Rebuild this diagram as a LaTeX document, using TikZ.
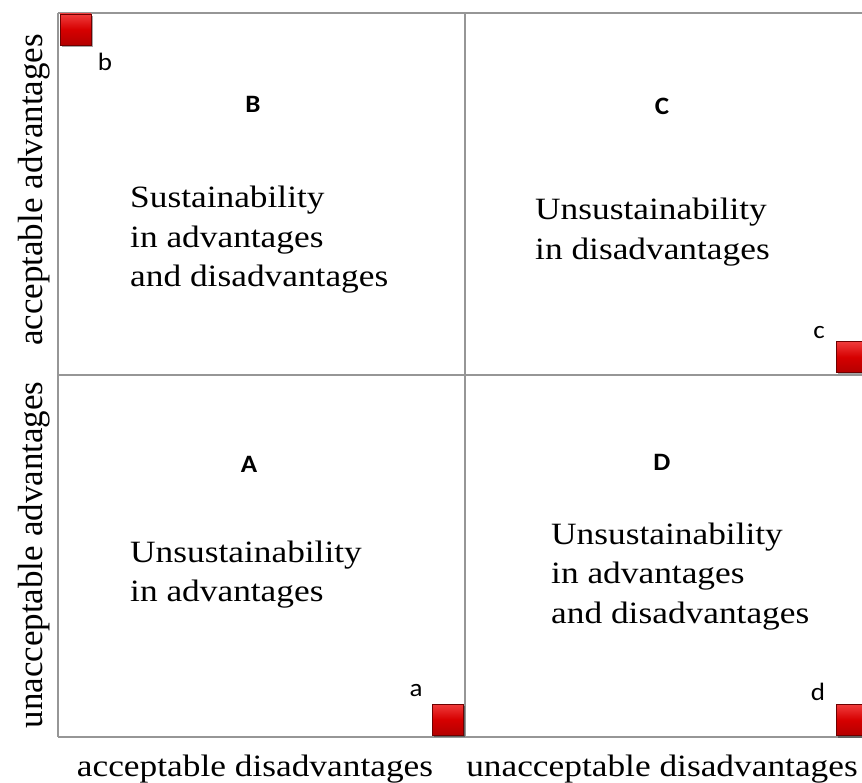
\documentclass[tikz,border=0pt]{standalone}
\usepackage{fontspec}
\usepackage{graphicx}
\setmainfont{Liberation Serif}
\newfontfamily\wideserif[FakeStretch=1.14]{Liberation Serif}
\newfontfamily\lettersans[FakeStretch=1.08]{Carlito}
\usetikzlibrary{shadows}
\definecolor{gridgray}{RGB}{150,150,150}
\definecolor{redtop}{RGB}{240,60,60}
\definecolor{redmid}{RGB}{214,0,0}
\definecolor{redbot}{RGB}{180,0,0}
\definecolor{redline}{RGB}{110,0,0}
\tikzset{
  gridline/.style={draw=gridgray, line width=2pt},
  marker/.style={minimum size=31pt, inner sep=0pt, draw=redline, line width=0.7pt,
    top color=redtop, bottom color=redbot, middle color=redmid,
    drop shadow={shadow xshift=1.5pt, shadow yshift=-2pt, opacity=0.35, fill=black}},
  quadtext/.style={anchor=base west, inner sep=0pt, font=\wideserif\fontsize{31}{39.5}\selectfont},
  quadletter/.style={inner sep=0pt, font=\lettersans\bfseries\fontsize{25}{28}\selectfont},
  cornerletter/.style={inner sep=0pt, font=\lettersans\fontsize{25}{28}\selectfont},
  axistext/.style={inner sep=0pt, anchor=base, font=\fontsize{35}{40}\selectfont},
  axistextwide/.style={inner sep=0pt, anchor=base, font=\wideserif\fontsize{31}{40}\selectfont}
}
\begin{document}
\begin{tikzpicture}[x=1pt, y=-1pt]
\useasboundingbox (0,0) rectangle (862,783);
% grid coordinates
\coordinate (tl) at (58,13);
\coordinate (tm) at (465,13);
\coordinate (tr) at (870,13);
\coordinate (ml) at (58,375);
\coordinate (mr) at (870,375);
\coordinate (bl) at (58,737);
\coordinate (bm) at (465,737);
\coordinate (br) at (870,737);
\draw[gridline] (tl) -- (tr);
\draw[gridline] (ml) -- (mr);
\draw[gridline] (bl) -- (br);
\draw[gridline] (tl) -- (bl);
\draw[gridline] (tm) -- (bm);

% quadrant letters
\node[quadletter] (qB) at (253,104) {B};
\node[quadletter] (qC) at (662,106) {C};
\node[quadletter] (qA) at (249,464) {A};
\node[quadletter] (qD) at (662,462) {D};

% quadrant texts
\node[quadtext] (tB) at (130,208) {\begin{tabular}[t]{@{}l@{}}Sustainability\\in advantages\\and disadvantages\end{tabular}};
\node[quadtext] (tC) at (535,220) {\begin{tabular}[t]{@{}l@{}}Unsustainability\\in disadvantages\end{tabular}};
\node[quadtext] (tA) at (130,562) {\begin{tabular}[t]{@{}l@{}}Unsustainability\\in advantages\end{tabular}};
\node[quadtext] (tD) at (551,544) {\begin{tabular}[t]{@{}l@{}}Unsustainability\\in advantages\\and disadvantages\end{tabular}};

% markers
\node[marker] (mb) at (75.5,29.5) {};
\node[marker] (ma) at (447.5,719.5) {};
\node[marker] (mc) at (851.5,357) {};
\node[marker] (md) at (851.5,720) {};

% corner letters
\node[cornerletter] (lb) at (105,62) {b};
\node[cornerletter] (lc) at (819,333) {c};
\node[cornerletter] (la) at (416,691) {a};
\node[cornerletter] (ld) at (818,692) {d};

% axis labels
\node[axistextwide] (xa) at (255,776) {acceptable disadvantages};
\node[axistextwide] (xu) at (662,776) {unacceptable disadvantages};
\node[axistext, rotate=90] (ya) at (42,190) {acceptable advantages};
\node[axistext, rotate=90] (yu) at (42,555) {unacceptable advantages};
\end{tikzpicture}
\end{document}
